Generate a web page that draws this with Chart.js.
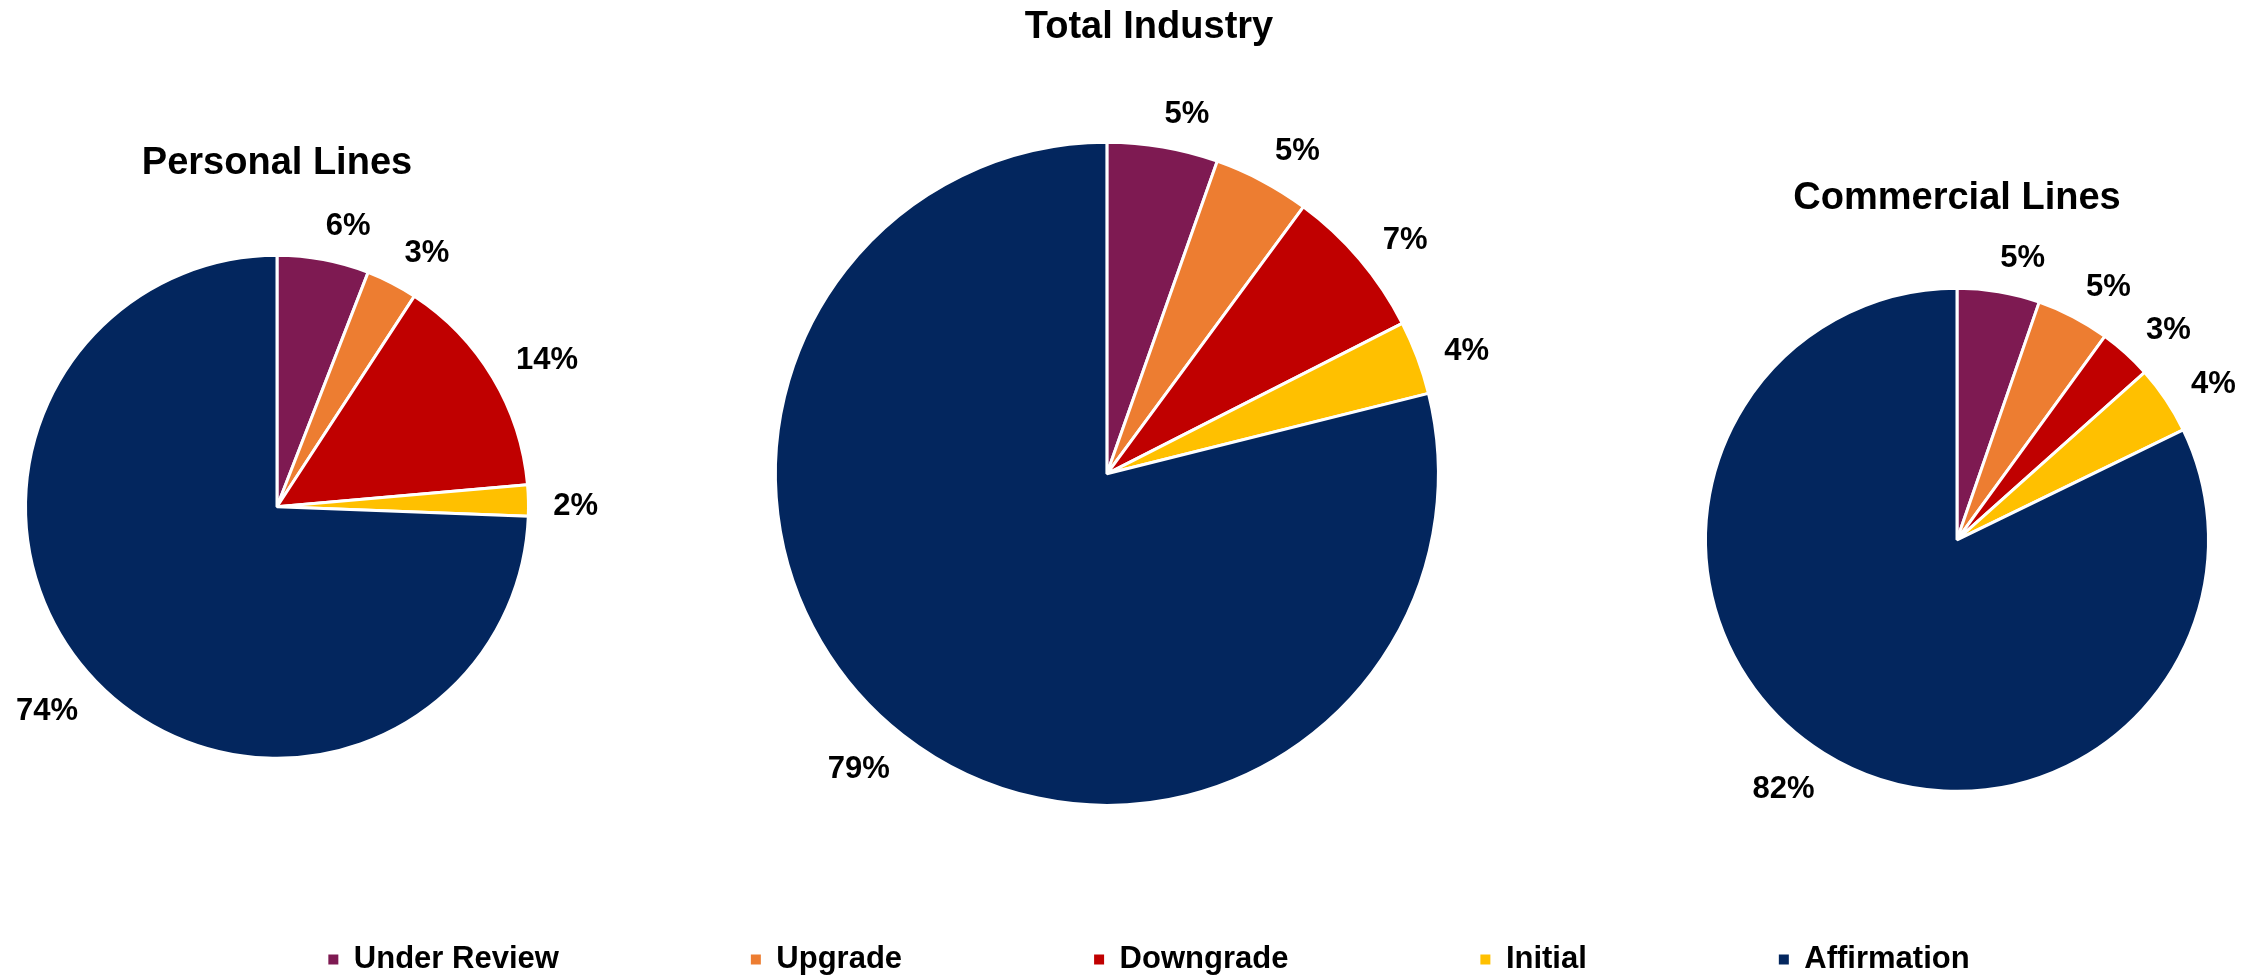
<!DOCTYPE html>
<html>
<head>
<meta charset="utf-8">
<title>Rating actions by segment</title>
<script src="https://cdn.jsdelivr.net/npm/chart.js@4.4.1/dist/chart.umd.min.js"></script>
<style>
  html, body { margin: 0; padding: 0; background: #fff; overflow: hidden; }
  body { position: relative; width: 2262px; height: 976px; }
  .pie { position: absolute; top: 0; }
  #personal { left: -73px; }
  #commercial { left: 1652px; }
  #total { left: 0; }
</style>
</head>
<body>
<div class="pie" id="personal"><canvas width="700" height="820"></canvas></div>
<div class="pie" id="commercial"><canvas width="610" height="851"></canvas></div>
<div class="pie" id="total"><canvas width="2262" height="985"></canvas></div>
<script>
const categories = ['Under Review', 'Upgrade', 'Downgrade', 'Initial', 'Affirmation'];
const personalLines = [5.9, 3.3, 14.4, 2.0, 74.4];
const totalIndustry = [5.4, 4.7, 7.4, 3.6, 78.9];
const commercialLines = [5.3, 4.7, 3.4, 4.4, 82.2];

const sliceColors = ['#7E1A52', '#ED7D31', '#C00000', '#FFC000', '#03265E'];

Chart.defaults.font.family = '"Liberation Sans", Arial, Helvetica, sans-serif';
Chart.defaults.color = '#000';

// percent labels just outside the end of each slice
const outsideLabels = {
    id: 'outsideLabels',
    afterDatasetsDraw(chart) {
        var ctx = chart.ctx;
        var values = chart.data.datasets[0].data;
        ctx.save();
        ctx.font = 'bold 31px "Liberation Sans", Arial, sans-serif';
        ctx.fillStyle = '#000';
        ctx.textAlign = 'center';
        ctx.textBaseline = 'alphabetic';
        chart.getDatasetMeta(0).data.forEach((arc, i) => {
            var p = arc.getProps(['x', 'y', 'startAngle', 'endAngle', 'outerRadius'], true);
            var text = Math.round(values[i]) + '%';
            var a = (p.startAngle + p.endAngle) / 2;
            var cos = Math.cos(a);
            var sin = Math.sin(a);
            var dist = p.outerRadius + 24.5 + Math.abs(cos) * ctx.measureText(text).width / 2 + Math.abs(sin) * 11;
            // excel nudges the labels a little clockwise
            var nudge = 4 + 14 * Math.abs(sin);
            var lx = p.x + cos * dist - sin * nudge;
            var ly = p.y + sin * dist + cos * nudge;
            ctx.fillText(text, lx, ly + 11);
        });
        ctx.restore();
    }
};

function pieDataset(values) {
    return {
        data: values,
        backgroundColor: sliceColors,
        borderColor: '#fff',
        borderWidth: 3,
        clip: false
    };
}

function legendItems(chart) {
    var base = (Chart.overrides.pie || Chart.overrides.doughnut).plugins.legend.labels.generateLabels;
    var items = base(chart);
    items.forEach((item) => { item.lineWidth = 0; });
    return items;
}

function sidePie(selector, title, values, titleTop) {
    return new Chart(document.querySelector(selector + ' canvas'), {
        type: 'pie',
        data: { labels: categories, datasets: [pieDataset(values)] },
        options: {
            responsive: false,
            animation: false,
            radius: 251.5,
            plugins: {
                legend: { display: false },
                tooltip: { enabled: false },
                title: {
                    display: true,
                    text: title,
                    font: { size: 38, weight: 'bold' },
                    padding: { top: titleTop, bottom: 7 }
                }
            }
        },
        plugins: [outsideLabels]
    });
}

sidePie('#personal', 'Personal Lines', personalLines, 141);
sidePie('#commercial', 'Commercial Lines', commercialLines, 176);

new Chart(document.querySelector('#total canvas'), {
    type: 'pie',
    data: { labels: categories, datasets: [pieDataset(totalIndustry)] },
    options: {
        responsive: false,
        animation: false,
        radius: 331.5,
        layout: { padding: { left: 120, right: 84, top: 0, bottom: 0 } },
        plugins: {
            tooltip: { enabled: false },
            title: {
                display: true,
                text: 'Total Industry',
                font: { size: 38, weight: 'bold' },
                padding: { top: 5, bottom: 145 }
            },
            // empty box on the right: pushes the pie a bit left of the title / legend centre
            subtitle: {
                display: true,
                position: 'right',
                text: '',
                font: { size: 1 },
                padding: { top: 41, bottom: 42 }
            },
            legend: {
                position: 'bottom',
                labels: {
                    boxWidth: 10,
                    boxHeight: 10,
                    padding: 192,
                    color: '#000',
                    font: { size: 31, weight: 'bold' },
                    generateLabels: legendItems
                }
            }
        }
    },
    plugins: [outsideLabels]
});
</script>
</body>
</html>
